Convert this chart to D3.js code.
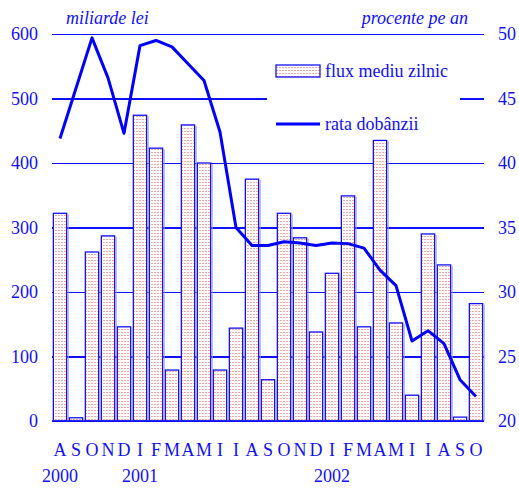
<!DOCTYPE html>
<html>
<head>
<meta charset="utf-8">
<script src="https://cdn.jsdelivr.net/npm/d3@7"></script>
<style>
  body { margin: 0; background: #fff; }
  text { font-family: "Liberation Serif", "DejaVu Serif", serif; fill: #1010ff; }
</style>
</head>
<body>
<div id="chart"></div>
<script>
// luni: august 2000 - octombrie 2002
var months = ["A","S","O","N","D","I","F","M","A","M","I","I","A","S","O","N","D","I","F","M","A","M","I","I","A","S","O"];
var yearLabels = ["2000","","","","","2001","","","","","","","","","","","","2002","","","","","","","","",""];
// flux mediu zilnic (miliarde lei)
var flux = [322, 5, 262, 287, 146, 474, 423, 79, 459, 400, 79, 144, 375, 64, 322, 284, 138, 229, 349, 146, 435, 152, 40, 290, 242, 6, 182];
// rata dobanzii (procente pe an)
var rata = [41.9, 45.8, 49.7, 46.6, 42.3, 49.1, 49.5, 49.0, 47.7, 46.4, 42.4, 35.0, 33.6, 33.6, 33.9, 33.8, 33.6, 33.8, 33.75, 33.4, 31.7, 30.5, 26.2, 27.0, 26.0, 23.2, 21.9];
var leftTicks = [0, 100, 200, 300, 400, 500, 600];
var rightTicks = [20, 25, 30, 35, 40, 45, 50];

var W = 519, H = 490;
var blue = "#1010ff";
var serif = "'Liberation Serif', 'DejaVu Serif', serif";
var margin = {top: 34, right: 35, bottom: 69, left: 52};
var width = W - margin.left - margin.right,
    height = H - margin.top - margin.bottom;

var svg = d3.select("#chart").append("svg").attr("width", W).attr("height", H);

var defs = svg.append("defs");
var pat = defs.append("pattern")
    .attr("id", "dots")
    .attr("patternUnits", "userSpaceOnUse")
    .attr("width", 3).attr("height", 3);
pat.append("rect").attr("width", 3).attr("height", 3).attr("fill", "#fff");
pat.append("rect").attr("x", 0).attr("y", 1).attr("width", 2).attr("height", 1).attr("fill", "#ffa4a4");

var g = svg.append("g").attr("transform", "translate(" + margin.left + "," + margin.top + ")");

var x = d3.scaleBand().domain(d3.range(months.length)).range([0, width]).paddingInner(0.17).paddingOuter(0.085);
var yL = d3.scaleLinear().domain([0, 600]).range([height, 0]);
var yR = d3.scaleLinear().domain([20, 50]).range([height, 0]);

// grila
g.append("g")
    .call(d3.axisLeft(yL).tickValues(leftTicks).tickSize(-width).tickFormat(""))
    .call(function (s) { s.select(".domain").remove(); })
    .selectAll("line").style("stroke", blue).style("stroke-width", 1.2).style("shape-rendering", "crispEdges");

// fundal legenda (acopera grila)
g.append("rect").attr("x", 215).attr("y", 22).attr("width", 193).attr("height", 92).attr("fill", "#fff");

// bare
g.selectAll(".bar")
    .data(flux)
    .enter().append("rect")
    .attr("class", "bar")
    .attr("x", function (d, i) { return x(i); })
    .attr("y", function (d) { return yL(d); })
    .attr("width", x.bandwidth())
    .attr("height", function (d) { return height - yL(d); })
    .attr("fill", "url(#dots)")
    .attr("stroke", blue)
    .attr("stroke-width", 1.3);

g.selectAll(".shade")
    .data(flux)
    .enter().append("line")
    .attr("x1", function (d, i) { return x(i) + x.bandwidth() + 1.5; })
    .attr("x2", function (d, i) { return x(i) + x.bandwidth() + 1.5; })
    .attr("y1", function (d) { return yL(d) + 1; })
    .attr("y2", height)
    .style("stroke", "#9a9aff").style("stroke-width", 1);

// axa de jos
g.append("line").attr("x1", 0).attr("x2", width).attr("y1", height).attr("y2", height)
    .style("stroke", blue).style("stroke-width", 1.5);

// linia ratei
var line = d3.line()
    .x(function (d, i) { return x(i) + x.bandwidth() / 2; })
    .y(function (d) { return yR(d); });
g.append("path").datum(rata)
    .attr("d", line)
    .style("fill", "none").style("stroke", "#0000ff").style("stroke-width", 3)
    .style("stroke-linejoin", "round");

function styleAxis(ax) {
    ax.attr("font-family", serif).attr("font-size", 18);
    ax.select(".domain").remove();
    ax.selectAll("text").style("font-size", "18px").style("font-family", serif).attr("fill", blue);
}

// etichete axe
var axL = g.append("g").call(d3.axisLeft(yL).tickValues(leftTicks).tickSize(0).tickPadding(14));
styleAxis(axL);

var axR = g.append("g").attr("transform", "translate(" + width + ",0)")
    .call(d3.axisRight(yR).tickValues(rightTicks).tickSize(0).tickPadding(14));
styleAxis(axR);

var axX = g.append("g").attr("transform", "translate(0," + height + ")")
    .call(d3.axisBottom(x).tickSize(0).tickPadding(22).tickFormat(function (d) { return months[d]; }));
styleAxis(axX);

var axY = g.append("g").attr("transform", "translate(0," + height + ")")
    .call(d3.axisBottom(x).tickSize(0).tickPadding(48).tickFormat(function (d) { return yearLabels[d]; }));
styleAxis(axY);

// titluri axe
svg.append("text").attr("x", 66).attr("y", 24).style("font-size", "18px").style("font-style", "italic").text("miliarde lei");
svg.append("text").attr("x", 468).attr("y", 24).attr("text-anchor", "end").style("font-size", "18px").style("font-style", "italic").text("procente pe an");

// legenda
var leg = svg.append("g");
leg.append("rect").attr("x", 276).attr("y", 65).attr("width", 44).attr("height", 12)
    .attr("fill", "url(#dots)").attr("stroke", blue).attr("stroke-width", 1.3);
leg.append("text").attr("x", 325).attr("y", 77).style("font-size", "18px").text("flux mediu zilnic");
leg.append("line").attr("x1", 276).attr("x2", 320).attr("y1", 124).attr("y2", 124)
    .style("stroke", "#0000ff").style("stroke-width", 3);
leg.append("text").attr("x", 325).attr("y", 130).style("font-size", "18px").text("rata dobânzii");
</script>
</body>
</html>
